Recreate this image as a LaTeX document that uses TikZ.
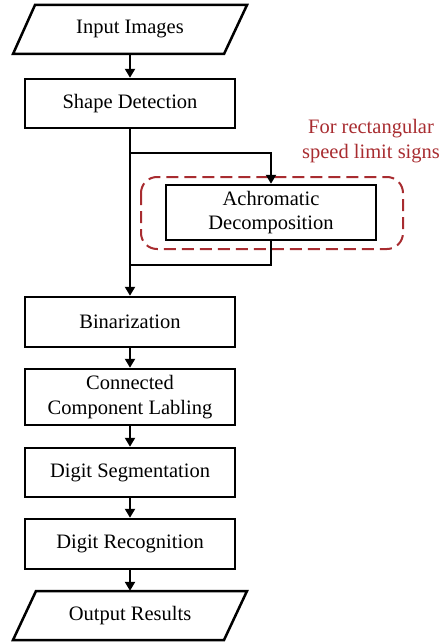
\documentclass[tikz,border=0pt]{standalone}
\usepackage{fontspec}
\setmainfont{Liberation Serif}
\usetikzlibrary{arrows.meta}
\definecolor{notered}{RGB}{168,44,48}
\tikzset{
  box/.style={draw, line width=2.5pt, minimum width=210pt, inner sep=0pt, align=center,
    font=\fontsize{20.5}{24.5}\selectfont},
  iolabel/.style={minimum width=190pt, inner sep=0pt, font=\fontsize{20.5}{24.5}\selectfont},
  ioframe/.style={draw, line width=2.5pt, line join=miter},
  flow/.style={line width=2.3pt, -{Triangle[width=10pt,length=9pt]}},
  link/.style={line width=2.3pt},
}
\begin{document}
\begin{tikzpicture}[x=1pt,y=-1pt]
\useasboundingbox (0,0) rectangle (447,642);
% input / output parallelograms
\draw[ioframe] (35,5) -- (247,5) -- (224,54) -- (13,54) -- cycle;
\node[iolabel, minimum height=49pt] (in) at (130,29.5) {Input Images};
\draw[ioframe] (36,591) -- (247,591) -- (224,640) -- (13,640) -- cycle;
\node[iolabel, minimum height=49pt] (out) at (130,615.5) {Output Results};
% processing steps
\node[box, minimum height=49pt] (shape) at (130,103.5) {Shape Detection};
\node[box, minimum height=55pt] (ach) at (271,212.5) {Achromatic\\Decomposition};
\node[box, minimum height=50pt] (bin) at (130,322) {Binarization};
\node[box, minimum height=56pt] (ccl) at (130,397) {Connected\\Component Labling};
\node[box, minimum height=49pt] (seg) at (130,472.5) {Digit Segmentation};
\node[box, minimum height=50pt] (rec) at (130,544) {Digit Recognition};
% optional branch annotation
\draw[notered, line width=2pt, dash pattern=on 12pt off 6pt, rounded corners=16pt]
  (141,177) rectangle (403,249);
\node[text=notered, align=center, inner sep=0pt, font=\fontsize{20.5}{25}\selectfont]
  (note) at (371,141.5) {For rectangular\\speed limit signs};
% connectors
\coordinate (split) at (130,153);
\coordinate (merge) at (130,265);
\draw[flow] (in.south) -- (shape.north);
\draw[flow] (shape.south) -- (bin.north);
\draw[flow] (split) -| (ach.north);
\draw[link] (ach.south) |- (merge);
\draw[flow] (bin.south) -- (ccl.north);
\draw[flow] (ccl.south) -- (seg.north);
\draw[flow] (seg.south) -- (rec.north);
\draw[flow] (rec.south) -- (out.north);
\end{tikzpicture}
\end{document}
